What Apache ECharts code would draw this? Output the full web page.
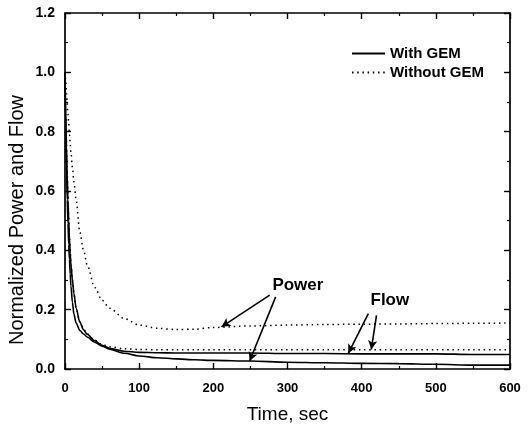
<!DOCTYPE html>
<html>
<head>
<meta charset="utf-8">
<script src="https://cdn.jsdelivr.net/npm/echarts@6/dist/echarts.min.js"></script>
<style>
  html, body { margin: 0; padding: 0; background: #fff; }
  #chart { width: 531px; height: 428px; }
</style>
</head>
<body>
<div id="chart"></div>
<script>
// Time after the transient starts, s
const time = [0, 1, 2, 3, 4, 5, 6, 7, 8, 10, 12, 15, 20, 25, 30, 40, 50, 60, 80, 100,
              125, 150, 175, 200, 250, 300, 350, 400, 450, 500, 550, 600];

// Normalized power and flow, with GEM (solid)
const powerWithGem = [1.0, 0.82, 0.68, 0.57, 0.49, 0.42, 0.37, 0.32, 0.28, 0.225, 0.185, 0.155, 0.13, 0.118, 0.108, 0.09, 0.077, 0.067, 0.053, 0.044,
                      0.038, 0.034, 0.031, 0.029, 0.027, 0.023, 0.021, 0.019, 0.018, 0.016, 0.013, 0.013];
const flowWithGem = [1.0, 0.86, 0.75, 0.65, 0.57, 0.5, 0.44, 0.39, 0.35, 0.3, 0.255, 0.205, 0.158, 0.132, 0.117, 0.095, 0.08, 0.07, 0.06, 0.056,
                     0.055, 0.054, 0.054, 0.054, 0.054, 0.052, 0.052, 0.051, 0.051, 0.051, 0.049, 0.049];

// Normalized power and flow, without GEM (dotted)
const powerNoGem = [1.0, 0.97, 0.93, 0.9, 0.86, 0.83, 0.79, 0.76, 0.73, 0.68, 0.63, 0.57, 0.46, 0.4, 0.35, 0.275, 0.232, 0.205, 0.17, 0.148,
                    0.137, 0.133, 0.134, 0.14, 0.145, 0.148, 0.15, 0.151, 0.152, 0.153, 0.154, 0.155];
const flowNoGem = [1.0, 0.87, 0.76, 0.66, 0.58, 0.51, 0.45, 0.4, 0.36, 0.3, 0.255, 0.205, 0.16, 0.135, 0.118, 0.097, 0.083, 0.075, 0.068, 0.066,
                   0.065, 0.065, 0.065, 0.065, 0.065, 0.065, 0.065, 0.065, 0.065, 0.065, 0.065, 0.065];

const xTicks = { min: 0, max: 600, interval: 100 };
const yTicks = { min: 0, max: 1.2, interval: 0.2 };

const pair = (xs, ys) => xs.map((x, i) => [x, ys[i]]);

const FONT = '"Liberation Sans", Arial, sans-serif';
const solid = { color: '#000', width: 1.6, type: 'solid' };
const dotted = { color: '#000', width: 1.5, type: [1.5, 3.7] };

// Callout arrows, from the label to the curve they name
const arrowLine = { color: '#000', width: 1.6, type: 'solid' };
const annotations = [
  [{ coord: [276, 0.249] }, { coord: [211, 0.142] }],
  [{ coord: [284, 0.243] }, { coord: [249, 0.027] }],
  [{ coord: [409, 0.187] }, { coord: [382, 0.053] }],
  [{ coord: [420, 0.181] }, { coord: [413, 0.066] }]
];
const labels = [
  { name: 'Power', coord: [314, 0.283] },
  { name: 'Flow', coord: [438, 0.232] }
];

const axisCommon = () => ({
  axisLine: { show: true, onZero: false, lineStyle: { color: '#000', width: 1.7 } },
  axisTick: { show: true, inside: true, length: 6, lineStyle: { color: '#000', width: 1.4 } },
  minorTick: { show: true, splitNumber: 2, length: 3, lineStyle: { color: '#000', width: 1.2 } },
  splitLine: { show: false }
});

const lineSeries = (name, values, style) => ({
  name, type: 'line', data: pair(time, values),
  showSymbol: false, symbol: 'none', smooth: 0.3, smoothMonotone: 'x',
  itemStyle: { color: '#000' }, lineStyle: style, silent: true
});

const chart = echarts.init(document.getElementById('chart'), null, { renderer: 'canvas' });
chart.setOption({
  animation: false,
  backgroundColor: '#fff',
  grid: { left: 65, right: 21, top: 13, bottom: 59, containLabel: false, outerBoundsMode: 'none' },
  legend: {
    orient: 'vertical',
    left: 351,
    top: 46,
    padding: 0,
    itemWidth: 33,
    itemHeight: 10,
    itemGap: 4,
    selectedMode: false,
    itemStyle: { opacity: 0 },
    data: ['With GEM', 'Without GEM'],
    textStyle: { fontFamily: FONT, fontSize: 15, fontWeight: 'bold', color: '#000' }
  },
  graphic: [{
    type: 'text',
    x: 17, y: 220,
    rotation: Math.PI / 2,
    style: {
      text: 'Normalized Power and Flow',
      fontFamily: FONT, fontSize: 20, fill: '#000',
      align: 'center', verticalAlign: 'middle'
    },
    silent: true
  }],
  xAxis: [
    Object.assign({
      type: 'value', position: 'bottom', ...xTicks,
      name: 'Time, sec', nameLocation: 'middle', nameGap: 36,
      nameTextStyle: { fontFamily: FONT, fontSize: 19, color: '#000' },
      axisLabel: { color: '#000', fontFamily: FONT, fontSize: 13, fontWeight: 'bold', margin: 13 }
    }, axisCommon()),
    Object.assign({
      type: 'value', position: 'top', ...xTicks,
      axisLabel: { show: false }
    }, axisCommon())
  ],
  yAxis: [
    Object.assign({
      type: 'value', position: 'left', ...yTicks,
      axisLabel: { color: '#000', fontFamily: FONT, fontSize: 14, fontWeight: 'bold', margin: 10,
                   formatter: v => v.toFixed(1) }
    }, axisCommon()),
    Object.assign({
      type: 'value', position: 'right', ...yTicks,
      axisLabel: { show: false }
    }, axisCommon())
  ],
  series: [
    Object.assign(lineSeries('With GEM', powerWithGem, solid), {
      markLine: {
        silent: true, symbol: ['none', 'arrow'], symbolSize: [7, 9],
        lineStyle: arrowLine, label: { show: false }, emphasis: { disabled: true },
        data: annotations
      },
      markPoint: {
        silent: true, symbol: 'circle', symbolSize: 0,
        label: { show: true, position: 'inside', formatter: p => p.name,
                 fontFamily: FONT, fontSize: 17, fontWeight: 'bold', color: '#000' },
        data: labels
      }
    }),
    lineSeries('With GEM', flowWithGem, solid),
    lineSeries('Without GEM', powerNoGem, dotted),
    lineSeries('Without GEM', flowNoGem, dotted)
  ]
});
</script>
</body>
</html>
